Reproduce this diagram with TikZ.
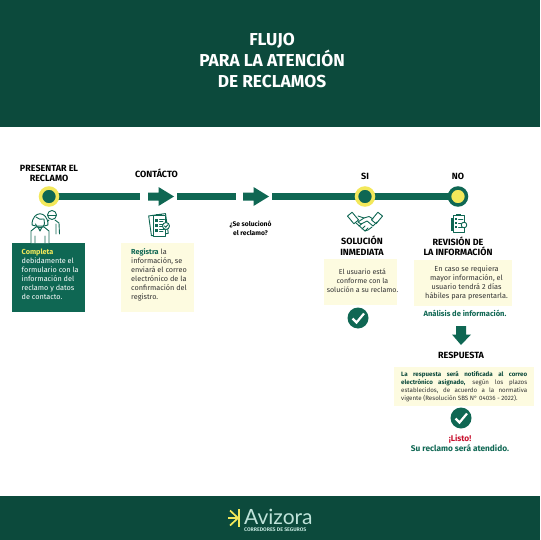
\documentclass[tikz,border=0pt]{standalone}
\usepackage{fontspec}
\setmainfont{Fira Sans}
\definecolor{dark}{HTML}{0C4A3C}
\definecolor{grn}{HTML}{0F6753}
\definecolor{yel}{HTML}{F3E85A}
\definecolor{cream}{HTML}{FDFBE0}
\definecolor{txt}{HTML}{333333}
\definecolor{logo}{HTML}{BFE3DA}
\definecolor{redx}{HTML}{C8102E}
\tikzset{
 x=1pt,y=-1pt,
 flow/.style={line width=6.5pt,draw=grn},
 fat/.style={fill=grn,draw=none},
 ttl/.style={text=white,font=\fontsize{17.3}{21}\selectfont\fontseries{sb}\selectfont,align=center,inner sep=0},
 lbl/.style={text=black,font=\fontsize{9}{10.5}\selectfont\fontseries{sb}\selectfont,align=center,inner sep=0},
 body/.style={text=txt,font=\fontsize{7.3}{9}\selectfont,inner sep=0},
 ico/.style={draw=grn,line width=.9pt,line join=round,line cap=round,fill=none},
 box/.style={draw=none,inner sep=0}
}
\newcommand{\okmark}[2]{%
 \fill[grn] (#1,#2) circle (10.5);
 \draw[white,line width=2.2pt] (#1-5.5,#2+0.5) -- (#1-1.5,#2+4.5) -- (#1+6,#2-4.5);}
\newcommand{\jl}[1]{\makebox[126pt][s]{#1}\\}
\begin{document}
\begin{tikzpicture}
\useasboundingbox (0,0) rectangle (540,540);
\fill[white] (0,0) rectangle (540,540);
\fill[dark] (0,0) rectangle (540,127);
\fill[dark] (0,496) rectangle (540,540);
\node[ttl] (title) at (272,61) {FLUJO\\PARA LA ATENCIÓN\\DE RECLAMOS};

% line
\coordinate (l1a) at (49,196.5); \coordinate (l1b) at (140,196.5);
\coordinate (l2a) at (177,196.5); \coordinate (l2b) at (235.5,196.5);
\coordinate (l3a) at (272,196.5); \coordinate (l3b) at (458,196.5);
\draw[flow] (l1a) -- (l1b);
\draw[flow] (l2a) -- (l2b);
\draw[flow] (l3a) -- (l3b);
\fill[fat] (148,192.5) -- (158.5,192.5) -- (158.5,187) -- (174,196.5) -- (158.5,206) -- (158.5,200.5) -- (148,200.5) -- cycle;
\fill[fat] (243,192.5) -- (253.5,192.5) -- (253.5,187) -- (269,196.5) -- (253.5,206) -- (253.5,200.5) -- (243,200.5) -- cycle;
\node[circle,fill=grn,draw=yel,line width=3.5pt,minimum size=17pt,inner sep=0] (c1) at (49,196.5) {};
\node[circle,fill=grn,draw=yel,line width=3.5pt,minimum size=17pt,inner sep=0] (c2) at (365,196.5) {};
\node[circle,fill=yel,draw=grn,line width=3.5pt,minimum size=17pt,inner sep=0] (c3) at (458,196.5) {};

% labels
\node[lbl] (a1) at (49,173.5) {PRESENTAR EL\\RECLAMO};
\node[lbl] (a2) at (156.5,173.5) {CONTÁCTO};
\node[lbl] (a3) at (365,176) {SI};
\node[lbl] (a4) at (458,176) {NO};
\node[lbl,font=\fontsize{6.7}{8.8}\selectfont\bfseries] (q) at (250.5,228) {¿Se solucionó\\el reclamo?};
\node[lbl] (s1) at (362,245.5) {SOLUCIÓN\\INMEDIATA};
\node[lbl] (s2) at (458,246.5) {REVISIÓN DE\\LA INFORMACIÓN};
\node[lbl] (s3) at (461,355.5) {RESPUESTA};

% boxes
\fill[grn] (12,243) rectangle (85,312);
\fill[cream] (121,243) rectangle (194,312);
\fill[cream] (324,259) rectangle (397,305);
\fill[cream] (414,260) rectangle (512,306);
\fill[cream] (394,367) rectangle (534,406);

\node[body,text=white,align=left,anchor=north west] (t1) at (21.5,248.5) {\textcolor{yel}{\bfseries Completa}\\debidamente el\\formulario con la\\información del\\reclamo y datos\\de contacto.};
\node[body,align=left,anchor=north west] (t2) at (131,248.5) {\textcolor{grn}{\fontseries{sb}\selectfont Registra} la\\información, se\\enviará el correo\\electrónico de la\\confirmación del\\registro.};
\node[body,align=center,font=\fontsize{7.05}{9}\selectfont] (t3) at (362.5,280.5) {El usuario está\\conforme con la\\solución a su reclamo.};
\node[body,align=center] (t4) at (466.5,283) {En caso se requiera\\mayor información, el\\usuario tendrá 2 días\\hábiles para presentarla.};
\node[body,text=grn,font=\fontsize{7.6}{9}\selectfont\bfseries] (t5) at (465,313.5) {Análisis de información.};
\node[body,anchor=north west,align=left,font=\fontsize{6.2}{7.9}\selectfont] (t6) at (401,371) {\jl{\textcolor{dark}{\bfseries La respuesta será notificada al correo}}\jl{\textcolor{dark}{\bfseries electrónico asignado,} según los plazos}\jl{establecidos, de acuerdo a la normativa}vigente (Resolución SBS N° 04036 - 2022).};
\node[inner sep=0,align=center,font=\fontsize{8.3}{9.5}\selectfont\bfseries,text=grn] (t7) at (460,443) {\textcolor{redx}{¡Listo!}\\Su reclamo será atendido.};

% down arrow
\fill[fat] (456,326) -- (466,326) -- (466,334.5) -- (471,334.5) -- (461,345) -- (452,334.5) -- (456,334.5) -- cycle;

% checks
\okmark{358}{318}
\okmark{461}{418}

% person icons
\begin{scope}
\draw[ico,fill=white] (52,215) circle (4.5);
\draw[ico] (48,215) -- (56,215);
\draw[ico] (49,220) -- (46,223) (55,220) -- (59,223) -- (59.5,234) (56,224) -- (56,234);
\draw[ico,fill=white] (31,243) -- (31,231) -- (36,227) -- (44,227) -- (49,231) -- (49,243);
\draw[ico] (35,236) -- (35,243) (45,236) -- (45,243) (38,227) -- (40,231) -- (42,227);
\draw[ico,fill=white] (32,225) .. controls (32,210) and (48,210) .. (48,225) -- (44,226) -- (36,226) -- cycle;
\draw[ico] (35.5,224) .. controls (36,229) and (44,229) .. (44.5,224) -- (44,219) .. controls (41,220) and (38,219) .. (36,217);
\end{scope}

% form icon (contact)
\begin{scope}
\draw[ico,rotate around={8:(156,225)}] (150,215) rectangle (167,235);
\draw[ico,fill=white] (153,215) rectangle (165.5,236);
\fill[grn] (156,214) rectangle (162,216);
\foreach \yy in {220,225,230}{\fill[grn] (155,\yy-1.5) rectangle (158,\yy+1.5);\draw[ico] (159.5,\yy-1) -- (164.5,\yy-1) (159.5,\yy+1) -- (163,\yy+1);}
\draw[ico,fill=white] (166,226) circle (3.5);
\draw[ico] (164.5,226) -- (165.7,227.3) -- (167.8,224.8);
\end{scope}

% handshake icon
\begin{scope}
\draw[ico,fill=white,rotate around={40:(353,218)}] (350,213) rectangle (356,223);
\draw[ico,fill=white,rotate around={-40:(377,218)}] (374,213) rectangle (380,223);
\draw[ico] (358,216) -- (364,218) -- (369,216.5) -- (373,219);
\draw[ico] (364,218) -- (358,222) -- (361,224) -- (367,221) -- (373,226) -- (377,222);
\draw[ico] (356,223) -- (365,231) -- (368,230) -- (372,227);
\draw[ico] (359,226) -- (362,223.5) (362,229) -- (365,226) (365,231) -- (368,228);
\end{scope}

% review icon
\begin{scope}
\draw[ico] (453,215) rectangle (464,232);
\fill[grn] (451,218) rectangle (453,231);
\fill[grn] (456,214) rectangle (461,216);
\foreach \yy in {219,223,227}{\fill[grn] (454.5,\yy-1) rectangle (457,\yy+1);\draw[ico] (458.5,\yy) -- (463,\yy);}
\draw[ico,fill=white] (464,225) circle (2.8);
\end{scope}

% logo
\draw[yel,line width=1.7pt] (239,509) -- (239,527);
\coordinate (lc) at (238,518);
\draw[yel,line width=1.7pt] (lc) -- (228,518) (lc) -- (230,510.5) (lc) -- (230,525.5);
\node[inner sep=0,anchor=base west,text=logo,font=\fontsize{21}{21}\selectfont\fontspec{Lato}] (brand) at (244,524) {Avizora};
\node[inner sep=0,anchor=base west,text=logo,font=\fontsize{5.2}{5}\selectfont\bfseries] (sub) at (244,531) {CORREDORES DE SEGUROS};
\end{tikzpicture}
\end{document}
